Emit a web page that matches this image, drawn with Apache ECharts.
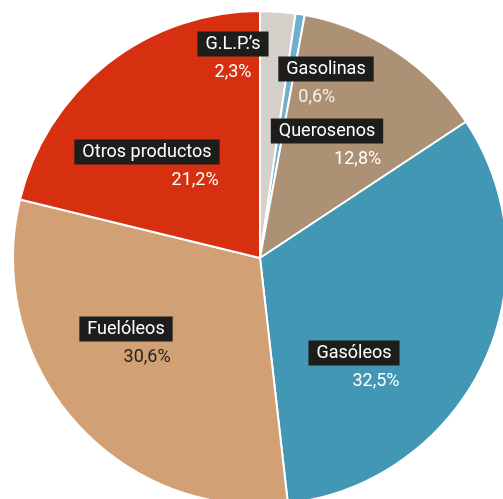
<!DOCTYPE html>
<html>
<head>
<meta charset="utf-8">
<script src="https://cdn.jsdelivr.net/npm/echarts@6/dist/echarts.min.js"></script>
<style>
  html, body { margin: 0; padding: 0; background: #fff; }
  #chart { width: 503px; height: 499px; }
</style>
</head>
<body>
<div id="chart"></div>
<script>
// Petroleum product shares, clockwise from 12 o'clock
const categories = ['G.L.P.’s', 'Gasolinas', 'Querosenos', 'Gasóleos', 'Fuelóleos', 'Otros productos'];
const shares = [2.3, 0.6, 12.8, 32.5, 30.6, 21.2];

const sliceColors = ['#d6d0ca', '#6db0cd', '#ad9174', '#4297b5', '#d1a074', '#d63010'];
const pctColors = ['#ffffff', '#f6f1ea', '#ffffff', '#ffffff', '#222222', '#ffffff'];

// Label placement: centre x and top y of the name box, plus how the percentage sits under it
const labelAnchors = [
  { x: 233, y: 35, pAlign: 'center', pPad: [0, 0, 0, 0] },
  { x: 326, y: 60, pAlign: 'left', pPad: [0, 0, 0, 20] },
  { x: 327, y: 122, pAlign: 'right', pPad: [0, 2, 0, 0] },
  { x: 354, y: 344, pAlign: 'right', pPad: [0, 0, 0, 0] },
  { x: 126, y: 320, pAlign: 'right', pPad: [0, 2, 0, 0] },
  { x: 147, y: 143, pAlign: 'right', pPad: [0, 1, 0, 0] }
];

const fmt = v => v.toFixed(1).replace('.', ',') + '%';

const data = categories.map((name, i) => ({
  name: name,
  value: shares[i],
  itemStyle: { color: sliceColors[i] },
  label: {
    rich: {
      n: {
        fontFamily: 'Roboto', fontSize: 18, color: '#ffffff',
        backgroundColor: '#1d1d1b', padding: [4, 8, 3, 8], lineHeight: 18
      },
      p: {
        fontFamily: 'Roboto', fontSize: 18, color: pctColors[i],
        lineHeight: 38, align: labelAnchors[i].pAlign, padding: labelAnchors[i].pPad
      }
    }
  }
}));

const chart = echarts.init(document.getElementById('chart'), null, { renderer: 'canvas' });
chart.setOption({
  animation: false,
  series: [{
    type: 'pie',
    center: [260, 258],
    radius: 247,
    startAngle: 90,
    clockwise: true,
    silent: true,
    itemStyle: { borderColor: '#ffffff', borderWidth: 2 },
    label: {
      show: true,
      position: 'inside',
      formatter: p => '{n|' + p.name + '}\n{p|' + fmt(p.value) + '}'
    },
    labelLine: { show: false },
    labelLayout: function (params) {
      const a = labelAnchors[params.dataIndex];
      return { x: a.x, y: a.y, align: 'center', verticalAlign: 'top' };
    },
    data: data
  }]
});
</script>
</body>
</html>
